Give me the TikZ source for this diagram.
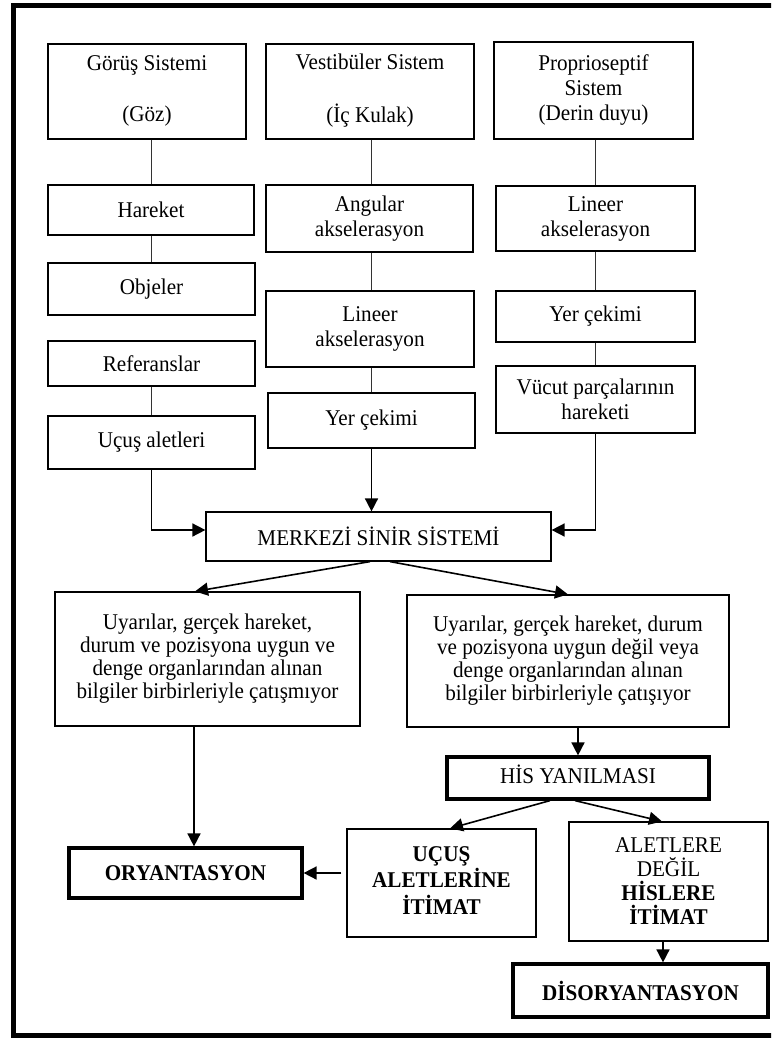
\documentclass[tikz,border=0pt]{standalone}
\usepackage{fontspec}
\setmainfont{Liberation Serif}[FakeStretch=0.94]
\usetikzlibrary{arrows.meta}
% multi-line text raised inside its box
\newcommand\liftlines[2]{\raisebox{#1}{\begin{tabular}{@{}c@{}}#2\end{tabular}}}

\begin{document}
\begin{tikzpicture}[x=1pt,y=-1pt,
  box/.style={draw=black, line width=1.2pt, align=center, inner sep=0pt,
              font=\fontsize{22.5}{24}\selectfont, text=black},
  heavy/.style={box, line width=3.2pt, font=\fontsize{22.5}{24}\selectfont\bfseries},
  bx/.style 2 args={minimum width=#1pt, minimum height=#2pt},
  link/.style={draw=black!80, line width=1pt},
  arr/.style={draw=black, line width=1.6pt, -{Triangle[length=13pt,width=13pt]}}]

\useasboundingbox (0,0) rectangle (771,1038);
\clip (0,0) rectangle (771,1038);

% outer frame
\draw[line width=5pt] (13,5.5) rectangle (800,1035.5);

% sensory systems
\node[box, bx={198}{95}] (gor) at (147,91.5) {\liftlines{-1pt}{Görüş Sistemi\\[27pt](Göz)}};
\node[box, bx={208}{95}] (ves) at (370,91.5) {\liftlines{-1pt}{Vestibüler Sistem\\[27pt](İç Kulak)}};
\node[box, bx={199}{97}, font=\fontsize{22.5}{25}\selectfont] (pro) at (593.5,90.5)
  {\liftlines{-1pt}{Proprioseptif\\ Sistem\\ (Derin duyu)}};

% visual column
\node[box, bx={206}{50}] (har) at (151,210) {Hareket};
\node[box, bx={207}{52}] (obj) at (151.5,289) {Objeler};
\node[box, bx={207}{45}] (ref) at (151.5,363.5) {Referanslar};
\node[box, bx={207}{53}] (ucs) at (151.5,442.5) {\liftlines{2pt}{Uçuş aletleri}};

% vestibular column
\node[box, bx={207}{67}, font=\fontsize{22.5}{25}\selectfont] (ang) at (369.5,218.5) {Angular\\ akselerasyon};
\node[box, bx={208}{76}, font=\fontsize{22.5}{25}\selectfont] (lin2) at (370,329) {Lineer\\ akselerasyon};
\node[box, bx={207}{55}] (yer2) at (371.5,420.5) {\liftlines{3pt}{Yer çekimi}};

% proprioceptive column
\node[box, bx={199}{65}, font=\fontsize{22.5}{25}\selectfont] (lin1) at (595.5,218.5) {Lineer\\ akselerasyon};
\node[box, bx={199}{51}] (yer1) at (595.5,316.5) {Yer çekimi};
\node[box, bx={199}{67}, font=\fontsize{22.5}{25}\selectfont] (vuc) at (595.5,399.5) {Vücut parçalarının\\ hareketi};

% central nervous system
\node[box, bx={345}{49}] (mss) at (378.5,536.5) {MERKEZİ SİNİR SİSTEMİ};

% two outcomes
\node[box, bx={305}{134}, font=\fontsize{22.5}{23}\selectfont] (lbox) at (207.5,659)
  {\liftlines{5pt}{Uyarılar, gerçek hareket,\\ durum ve pozisyona uygun ve\\ denge organlarından alınan\\ bilgiler birbirleriyle çatışmıyor}};
\node[box, bx={322}{132}, font=\fontsize{22.5}{23}\selectfont] (rbox) at (568,661)
  {\liftlines{6pt}{Uyarılar, gerçek hareket, durum\\ ve pozisyona uygun değil veya\\ denge organlarından alınan\\ bilgiler birbirleriyle çatışıyor}};

\node[heavy, bx={262}{42}, font=\fontsize{22.5}{24}\selectfont] (his) at (578,778) {\liftlines{-2pt}{HİS YANILMASI}};

\node[box, bx={189}{108}, font=\fontsize{22.5}{24}\selectfont\bfseries] (ucsi) at (441.5,883)
  {\liftlines{7pt}{UÇUŞ\\ ALETLERİNE\\ İTİMAT}};
\node[box, bx={199}{119}] (ale) at (668.5,881.5)
  {ALETLERE\\ DEĞİL\\ \textbf{HİSLERE}\\ \textbf{İTİMAT}};

\node[heavy, bx={233}{50}] (ory) at (185.5,873) {ORYANTASYON};
\node[heavy, bx={255}{53}] (dis) at (640.5,990.5) {DİSORYANTASYON};

% plain links inside the columns
\draw[link] (har.north |- gor.south) -- (har.north);
\draw[link] (har.south) -- (har.south |- obj.north);
\draw[link] (ref.south) -- (ref.south |- ucs.north);
\draw[link] ([xshift=2pt]ang.north |- ves.south) -- ([xshift=2pt]ang.north);
\draw[link] ([xshift=2pt]ang.south) -- ([xshift=2pt]ang.south |- lin2.north);
\draw[link] ([xshift=2pt]ang.south |- lin2.south) -- ([xshift=2pt]ang.south |- yer2.north);
\draw[link] (lin1.north |- pro.south) -- (lin1.north);
\draw[link] (lin1.south) -- (lin1.south |- yer1.north);
\draw[link] (yer1.south) -- (yer1.south |- vuc.north);

% into the central nervous system
\draw[arr] (ucs.south) |- ([yshift=6.5pt]mss.west);
\draw[arr] (yer2.south) -- (yer2.south |- mss.north);
\draw[arr] (vuc.south) |- ([yshift=6.5pt]mss.east);

% out of the central nervous system
\draw[arr] ([xshift=-8.5pt]mss.south) -- ([xshift=-12.5pt]lbox.north);
\draw[arr] ([xshift=11.5pt]mss.south) -- (rbox.north);

\draw[arr] ([xshift=-13.5pt]lbox.south) -- ([xshift=-13.5pt]lbox.south |- ory.north);
\draw[arr] (his.north |- rbox.south) -- (his.north);

\draw[arr] ([xshift=-28pt]his.south) -- ([xshift=8.5pt]ucsi.north);
\draw[arr] ([xshift=-3pt]his.south) -- ([xshift=-6.5pt]ale.north);

\draw[arr, shorten <=5pt] (ucsi.west |- ory.east) -- (ory.east);
\draw[arr] ([xshift=-5.5pt]ale.south) -- ([xshift=-5.5pt]ale.south |- dis.north);
\end{tikzpicture}
\end{document}
